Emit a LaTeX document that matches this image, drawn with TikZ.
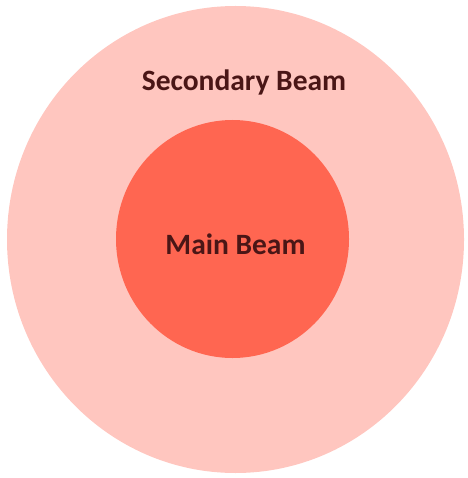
\documentclass[tikz,border=0pt]{standalone}
\usepackage{fontspec}
\setmainfont{Carlito}
\definecolor{outerpink}{HTML}{FFC6BF}
\definecolor{innerred}{HTML}{FF6651}
\definecolor{labelbrown}{HTML}{4A1616}
\tikzset{beamlabel/.style={text=labelbrown,font=\fontsize{29.5}{34}\selectfont\bfseries,inner sep=0pt}}

\begin{document}
\begin{tikzpicture}[x=1pt,y=-1pt]
\useasboundingbox (0,0) rectangle (467,478);

%\draw (0,0) rectangle (467,478);
\fill[color=outerpink] (235.5,239.5) ellipse (228.5 and 233.5);
\fill[color=innerred] (232.5,239) ellipse (116.5 and 119);

\node[beamlabel] (secondary) at (244,82) {Secondary Beam};
\node[beamlabel] (main) at (235.5,244) {Main Beam};

\end{tikzpicture}
\end{document}
